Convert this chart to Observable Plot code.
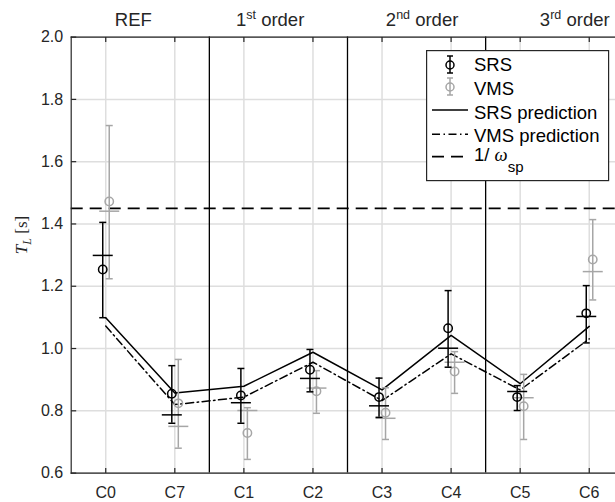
<!DOCTYPE html>
<html><head><meta charset="utf-8">
<script src="https://cdn.jsdelivr.net/npm/d3@7"></script>
<script src="https://cdn.jsdelivr.net/npm/@observablehq/plot@0.6"></script>
<style>
body{margin:0;background:#fff;}
#wrap{position:relative;width:615px;height:502px;overflow:hidden;font-family:"Liberation Sans",Arial,Helvetica,sans-serif;}
</style></head><body><div id="wrap"></div>
<script>
const categories = ["C0","C7","C1","C2","C3","C4","C5","C6"];
const groupLabels = ["REF","1st order","2nd order","3rd order"];
const groupLabelX = [0.4, 2.38, 4.58, 6.79];
const yTicks = [0.6,0.8,1.0,1.2,1.4,1.6,1.8,2.0];

const srsMean = [1.254, 0.855, 0.849, 0.932, 0.844, 1.065, 0.844, 1.113];
const srsLow  = [1.099, 0.760, 0.760, 0.861, 0.779, 0.940, 0.801, 1.018];
const srsHigh = [1.405, 0.945, 0.936, 0.997, 0.905, 1.186, 0.881, 1.202];
const srsMark = [1.299, 0.787, 0.826, 0.904, 0.816, 1.001, 0.862, 1.103];

const vmsMean = [1.472, 0.824, 0.729, 0.863, 0.794, 0.926, 0.815, 1.286];
const vmsLow  = [1.224, 0.680, 0.644, 0.792, 0.708, 0.856, 0.708, 1.156];
const vmsHigh = [1.716, 0.965, 0.810, 0.929, 0.874, 0.990, 0.917, 1.414];
const vmsMark = [1.441, 0.750, 0.801, 0.873, 0.776, 0.956, 0.842, 1.247];

const srsPred = [1.099, 0.857, 0.879, 0.988, 0.867, 1.042, 0.887, 1.071];
const vmsPred = [1.072, 0.820, 0.844, 0.956, 0.833, 0.983, 0.867, 1.031];
const spLine = 1.45;

const idx = categories.map((_, i) => i);
const rows = idx.map(i => ({
  i, srsMean: srsMean[i], srsLow: srsLow[i], srsHigh: srsHigh[i], srsMark: srsMark[i],
  vmsMean: vmsMean[i], vmsLow: vmsLow[i], vmsHigh: vmsHigh[i], vmsMark: vmsMark[i],
  srsPred: srsPred[i], vmsPred: vmsPred[i]
}));
const separators = d3.range(1, categories.length / 2).map(k => 2 * k - 0.5);

const seg = (x1, y1, x2, y2) => ({draw(ctx) { ctx.moveTo(x1, y1); ctx.lineTo(x2, y2); }});
const hbar = {draw(ctx, size) { const r = Math.sqrt(size / Math.PI); ctx.moveTo(-r, 0); ctx.lineTo(r, 0); }};

const AX = "#262626", GRID = "#dedede", BLK = "#000", GRY = "#a6a6a6";
const SW = 1.5, dxS = -3, dxV = 3.5;

function series(pre, color, dx) {
  return [
    Plot.ruleX(rows, {x: "i", y1: pre + "Low", y2: pre + "High", dx, stroke: color, strokeWidth: SW}),
    Plot.dot(rows, {x: "i", y: pre + "Low", symbol: hbar, r: 3.5, dx, stroke: color, fill: "none", strokeWidth: SW}),
    Plot.dot(rows, {x: "i", y: pre + "High", symbol: hbar, r: 3.5, dx, stroke: color, fill: "none", strokeWidth: SW}),
    Plot.dot(rows, {x: "i", y: pre + "Mark", symbol: hbar, r: 10, dx, stroke: color, fill: "none", strokeWidth: SW}),
    Plot.dot(rows, {x: "i", y: pre + "Mean", r: 4.2, dx, stroke: color, fill: "none", strokeWidth: SW})
  ];
}

const chart = Plot.plot({
  width: 615, height: 502,
  marginLeft: 70.7, marginRight: 0, marginTop: 36.6, marginBottom: 29.4,
  style: {fontFamily: '"Liberation Sans", Arial, Helvetica, sans-serif', background: "#fff"},
  x: {type: "linear", domain: [-0.5, 7.38]},
  y: {domain: [0.6, 2.0]},
  marks: [
    Plot.gridY(yTicks, {stroke: GRID, strokeOpacity: 1, strokeWidth: 1.5}),
    Plot.gridX(idx, {stroke: GRID, strokeOpacity: 1, strokeWidth: 1.5}),
    Plot.ruleX(separators, {stroke: BLK, strokeWidth: 1.3}),
    Plot.ruleY([spLine], {stroke: BLK, strokeWidth: 1.8, strokeDasharray: "12,7"}),
    Plot.line(rows, {x: "i", y: "srsPred", stroke: BLK, strokeWidth: SW}),
    Plot.line(rows, {x: "i", y: "vmsPred", stroke: BLK, strokeWidth: SW, strokeDasharray: "8,3.5,1.5,3.5"}),
    ...series("vms", GRY, dxV),
    ...series("srs", BLK, dxS),
    Plot.frame({anchor: "left", stroke: AX, strokeWidth: 1.2}),
    Plot.frame({anchor: "top", stroke: AX, strokeWidth: 1.2}),
    Plot.frame({anchor: "bottom", stroke: AX, strokeWidth: 1.2}),
    Plot.dot(yTicks, {y: d => d, frameAnchor: "left", symbol: seg(0, 0, 5, 0), r: 1, stroke: AX, strokeWidth: 1.2}),
    Plot.dot(idx, {x: d => d, frameAnchor: "bottom", symbol: seg(0, 0, 0, -5), r: 1, stroke: AX, strokeWidth: 1.2}),
    Plot.dot(idx, {x: d => d, frameAnchor: "top", symbol: seg(0, 0, 0, 5), r: 1, stroke: AX, strokeWidth: 1.2}),
    Plot.axisY(yTicks, {tickSize: 0, tickPadding: 8, tickFormat: d => d.toFixed(1), fontSize: 16, fill: AX, label: null}),
    Plot.axisX(idx, {tickSize: 0, tickPadding: 14, tickFormat: i => categories[i], fontSize: 16, fill: AX, label: null}),
    Plot.text(groupLabels, {x: (d, i) => groupLabelX[i], text: d => d, frameAnchor: "top", lineAnchor: "bottom", dy: -11, fontSize: 18.5, fill: AX, className: "grp"})
  ]
});

document.getElementById("wrap").appendChild(chart);
const svg = d3.select(chart);

// superscripts in group labels
svg.selectAll("g.grp text").each(function() {
  const t = this.textContent;
  const m = t.match(/^(\d+)(st|nd|rd|th)(.*)$/);
  if (m) {
    const s = d3.select(this).style("white-space", "pre");
    s.text(null);
    s.append("tspan").text(m[1]);
    s.append("tspan").attr("dy", -7).attr("font-size", 12.5).text(m[2]);
    s.append("tspan").attr("dy", 7).text(m[3]);
  }
});

// y-axis label  T_L [s]
const yl = svg.append("text")
  .attr("transform", "translate(27,235) rotate(-90)")
  .attr("text-anchor", "middle")
  .attr("font-family", '"Liberation Serif","DejaVu Serif",serif')
  .attr("font-size", 17).attr("fill", AX).style("white-space", "pre");
yl.append("tspan").attr("font-style", "italic").text("T");
yl.append("tspan").attr("font-style", "italic").attr("font-size", 12).attr("dy", 4).text("L");
yl.append("tspan").attr("dy", -4).text(" [s]");

// legend
const lg = d3.select("#wrap").append("svg")
  .style("position", "absolute").style("left", "426px").style("top", "50px")
  .attr("width", 184).attr("height", 132)
  .attr("font-family", '"Liberation Sans", Arial, Helvetica, sans-serif').attr("font-size", 18.5);
lg.append("rect").attr("x", 0.6).attr("y", 0.6).attr("width", 182).attr("height", 130)
  .attr("fill", "#fff").attr("stroke", AX).attr("stroke-width", 1.2);

function ebIcon(cy, color) {
  const g = lg.append("g").attr("stroke", color).attr("stroke-width", SW).attr("fill", "none");
  g.append("line").attr("x1", 24).attr("x2", 24).attr("y1", cy - 9).attr("y2", cy + 8);
  g.append("line").attr("x1", 21).attr("x2", 27).attr("y1", cy - 9).attr("y2", cy - 9);
  g.append("line").attr("x1", 21).attr("x2", 27).attr("y1", cy + 8).attr("y2", cy + 8);
  g.append("circle").attr("cx", 24).attr("cy", cy).attr("r", 4);
}
ebIcon(15, BLK);
ebIcon(37, GRY);
function lineIcon(y, dash) {
  lg.append("line").attr("x1", 6).attr("x2", 42).attr("y1", y).attr("y2", y)
    .attr("stroke", BLK).attr("stroke-width", dash === "12,7" ? 1.8 : SW).attr("stroke-dasharray", dash);
}
lineIcon(60, null);
lineIcon(84.3, "8,3.5,1.5,3.5");
lineIcon(106.7, "12,7");
const lt = [["SRS", 21], ["VMS", 45], ["SRS prediction", 69], ["VMS prediction", 91.7]];
lt.forEach(([t, y]) => lg.append("text").attr("x", 48).attr("y", y).attr("fill", BLK).text(t));
const om = lg.append("text").attr("x", 48).attr("y", 110.7).attr("fill", BLK).style("white-space", "pre");
om.append("tspan").text("1/ ");
om.append("tspan").attr("font-family", '"Liberation Serif","DejaVu Serif",serif').attr("font-style", "italic").text("ω");
om.append("tspan").attr("dy", 11).attr("font-size", 15).text("sp");
</script></body></html>
